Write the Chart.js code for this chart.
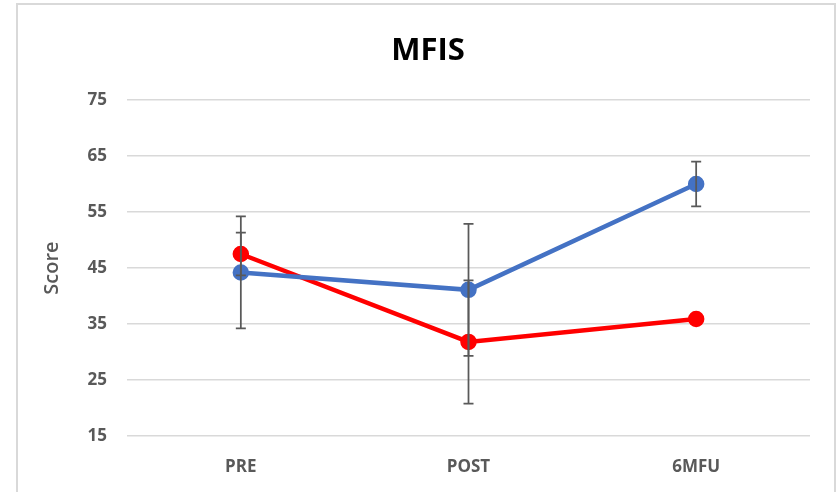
<!DOCTYPE html>
<html>
<head>
<meta charset="utf-8">
<script src="https://cdn.jsdelivr.net/npm/chart.js@4/dist/chart.umd.min.js"></script>
<style>
  html, body { margin: 0; padding: 0; background: #ffffff; }
  #wrap { position: relative; width: 838px; height: 492px; overflow: hidden; }
  canvas { display: block; }
</style>
</head>
<body>
<div id="wrap"><canvas id="chart" width="838" height="492"></canvas></div>
<script>
// Time points
const categories = ['PRE', 'POST', '6MFU'];

// Mean scores per group
const blueMeans = [44.2, 41.1, 60.0];
const redMeans = [47.5, 31.8, 35.9];

// Symmetric error bar half-lengths (0 = none drawn)
const blueErrors = [10.0, 11.8, 4.0];
const redErrors = [3.8, 11.0, 0];

// Y axis range and step
const yMin = 15;
const yMax = 75;
const yStep = 10;

const chartTitle = 'MFIS';

const textGray = '#595959';
const gridGray = '#d9d9d9';
const fontFamily = "'Open Sans', 'Liberation Sans', sans-serif";

// Outer frame and the heading, centred on the frame
const framePlugin = {
  id: 'frame',
  beforeDraw(chart) {
    const ctx = chart.ctx;
    ctx.save();
    ctx.fillStyle = '#ffffff';
    ctx.fillRect(0, 0, chart.width, chart.height);
    ctx.strokeStyle = gridGray;
    ctx.lineWidth = 2;
    ctx.strokeRect(17, 4, 818, 600);
    ctx.restore();
  },
  afterDraw(chart) {
    const ctx = chart.ctx;
    ctx.save();
    ctx.fillStyle = '#000000';
    ctx.font = 'bold 31px ' + fontFamily;
    ctx.textAlign = 'center';
    ctx.textBaseline = 'alphabetic';
    ctx.fillText(chartTitle, 428, 60);
    ctx.restore();
  }
};

// Vertical error bars with caps, placed through the chart's scales
const errorBarPlugin = {
  id: 'errorBars',
  afterDatasetsDraw(chart) {
    const ctx = chart.ctx;
    const yScale = chart.scales.y;
    ctx.save();
    ctx.strokeStyle = textGray;
    ctx.lineWidth = 1.75;
    chart.data.datasets.forEach((ds, di) => {
      const meta = chart.getDatasetMeta(di);
      const errs = ds.errors || [];
      meta.data.forEach((pt, i) => {
        const e = errs[i];
        if (!e) return;
        const v = ds.data[i];
        const x = pt.x;
        const yTop = yScale.getPixelForValue(v + e);
        const yBot = yScale.getPixelForValue(v - e);
        const cap = 5;
        ctx.beginPath();
        ctx.moveTo(x, yTop);
        ctx.lineTo(x, yBot);
        ctx.moveTo(x - cap, yTop);
        ctx.lineTo(x + cap, yTop);
        ctx.moveTo(x - cap, yBot);
        ctx.lineTo(x + cap, yBot);
        ctx.stroke();
      });
    });
    ctx.restore();
  }
};

new Chart(document.getElementById('chart'), {
  type: 'line',
  data: {
    labels: categories,
    datasets: [
      {
        label: 'Series 1',
        data: blueMeans,
        errors: blueErrors,
        borderColor: '#4472c4',
        backgroundColor: '#4472c4',
        borderWidth: 4.5,
        pointRadius: 6,
        pointBackgroundColor: '#4472c4',
        pointBorderColor: '#4472c4',
        tension: 0,
        order: 1
      },
      {
        label: 'Series 2',
        data: redMeans,
        errors: redErrors,
        borderColor: '#ff0000',
        backgroundColor: '#ff0000',
        borderWidth: 4.5,
        pointRadius: 6,
        pointBackgroundColor: '#ff0000',
        pointBorderColor: '#ff0000',
        tension: 0,
        order: 2
      }
    ]
  },
  options: {
    responsive: false,
    animation: false,
    devicePixelRatio: 1,
    layout: { padding: { left: 0, right: 28, top: 100, bottom: 0 } },
    plugins: {
      legend: { display: false },
      tooltip: { enabled: false },
      title: { display: false }
    },
    scales: {
      x: {
        type: 'category',
        offset: true,
        grid: { display: false, drawTicks: false },
        border: { display: false },
        ticks: {
          color: textGray,
          padding: 21,
          font: { family: fontFamily, size: 17, weight: 'bold', lineHeight: 1.2 }
        },
        afterFit(scale) { scale.height = 56; }
      },
      y: {
        min: yMin,
        max: yMax,
        grid: { color: gridGray, lineWidth: 1.5, drawTicks: false },
        border: { display: false },
        ticks: {
          stepSize: yStep,
          color: textGray,
          padding: 20,
          font: { family: fontFamily, size: 17, weight: 'bold', lineHeight: 1.2 }
        },
        title: {
          display: true,
          text: 'Score',
          color: textGray,
          padding: { top: 40.6, bottom: 0 },
          font: { family: fontFamily, size: 20, weight: '600', lineHeight: 1.2 }
        },
        afterFit(scale) { scale.width = 127; }
      }
    }
  },
  plugins: [framePlugin, errorBarPlugin]
});
</script>
</body>
</html>
